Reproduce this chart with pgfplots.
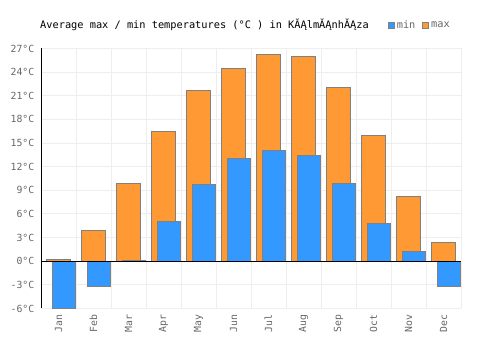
\documentclass[border=0pt]{standalone}
\usepackage{fontspec}
\setmainfont{DejaVu Sans Mono}
\usepackage{pgfplots}
\pgfplotsset{compat=1.18}
\definecolor{cmin}{HTML}{3399FF}
\definecolor{cmax}{HTML}{FF9933}
\definecolor{edge}{HTML}{808080}
\definecolor{gridc}{HTML}{EEEEEE}
\definecolor{lab}{HTML}{666666}
\begin{document}
\begin{tikzpicture}
\path[use as bounding box] (0,0) rectangle (500bp,350bp);
\node[anchor=base west, inner sep=0pt, font=\fontsize{10.3bp}{12bp}\selectfont] at (40bp,321bp) {Average max / min temperatures (°C ) in KĂĄlmĂĄnhĂĄza};
\begin{axis}[
  at={(41bp,41.5bp)}, anchor=south west,
  scale only axis, width=420bp, height=260bp,
  xmin=-0.5, xmax=11.5, ymin=-6, ymax=27,
  ytick={-6,-3,...,27},
  yticklabels={-6°C,-3°C,0°C,3°C,6°C,9°C,12°C,15°C,18°C,21°C,24°C,27°C},
  xtick={0,...,11},
  xticklabels={Jan,Feb,Mar,Apr,May,Jun,Jul,Aug,Sep,Oct,Nov,Dec},
  minor xtick={-0.5,0.5,...,11.5},
  xminorgrids, ymajorgrids,
  grid style={gridc, line width=1bp},
  minor grid style={gridc, line width=1bp},
  major tick length=0pt, minor tick length=0pt,
  axis line style={draw=none},
  tick label style={font=\fontsize{9.8bp}{11bp}\selectfont, text=lab},
  yticklabel style={anchor=east, inner ysep=0pt, inner xsep=6.5bp},
  xticklabel style={rotate=90, anchor=east, inner ysep=0pt, inner xsep=6bp},
  ybar, bar width=23.5bp,
  legend style={at={(1,1)}, anchor=east, xshift=-9bp, yshift=23.5bp, draw=none, fill=none,
    inner sep=0pt, font=\fontsize{10.3bp}{12bp}\selectfont, text=lab,
    /tikz/every even column/.append style={column sep=5bp}},
  legend columns=2,
  reverse legend,
]
\addplot[fill=cmax, draw=edge, line width=0.8bp, bar shift=0bp,
  legend image code/.code={\draw[fill=cmax, draw=edge, line width=0.8bp] (0bp,-3bp) rectangle (6bp,3bp);}]
  coordinates {(0,0.2) (1,3.9) (2,9.9) (3,16.5) (4,21.7) (5,24.5) (6,26.3) (7,26.0) (8,22.0) (9,16.0) (10,8.2) (11,2.4)};
\addplot[fill=cmin, draw=edge, line width=0.8bp, bar shift=5.5bp,
  legend image code/.code={\draw[fill=cmin, draw=edge, line width=0.8bp] (0bp,-3bp) rectangle (6bp,3bp);}]
  coordinates {(0,-6.0) (1,-3.2) (2,0.15) (3,5.1) (4,9.75) (5,13.0) (6,14.1) (7,13.45) (8,9.9) (9,4.8) (10,1.2) (11,-3.2)};
\legend{max,min}
\draw[black, line width=1bp] (axis cs:-0.5,0) -- (axis cs:11.5,0);
\draw[black, line width=1bp] (rel axis cs:0,0) -- (rel axis cs:0,1);
\end{axis}
\end{tikzpicture}
\end{document}
